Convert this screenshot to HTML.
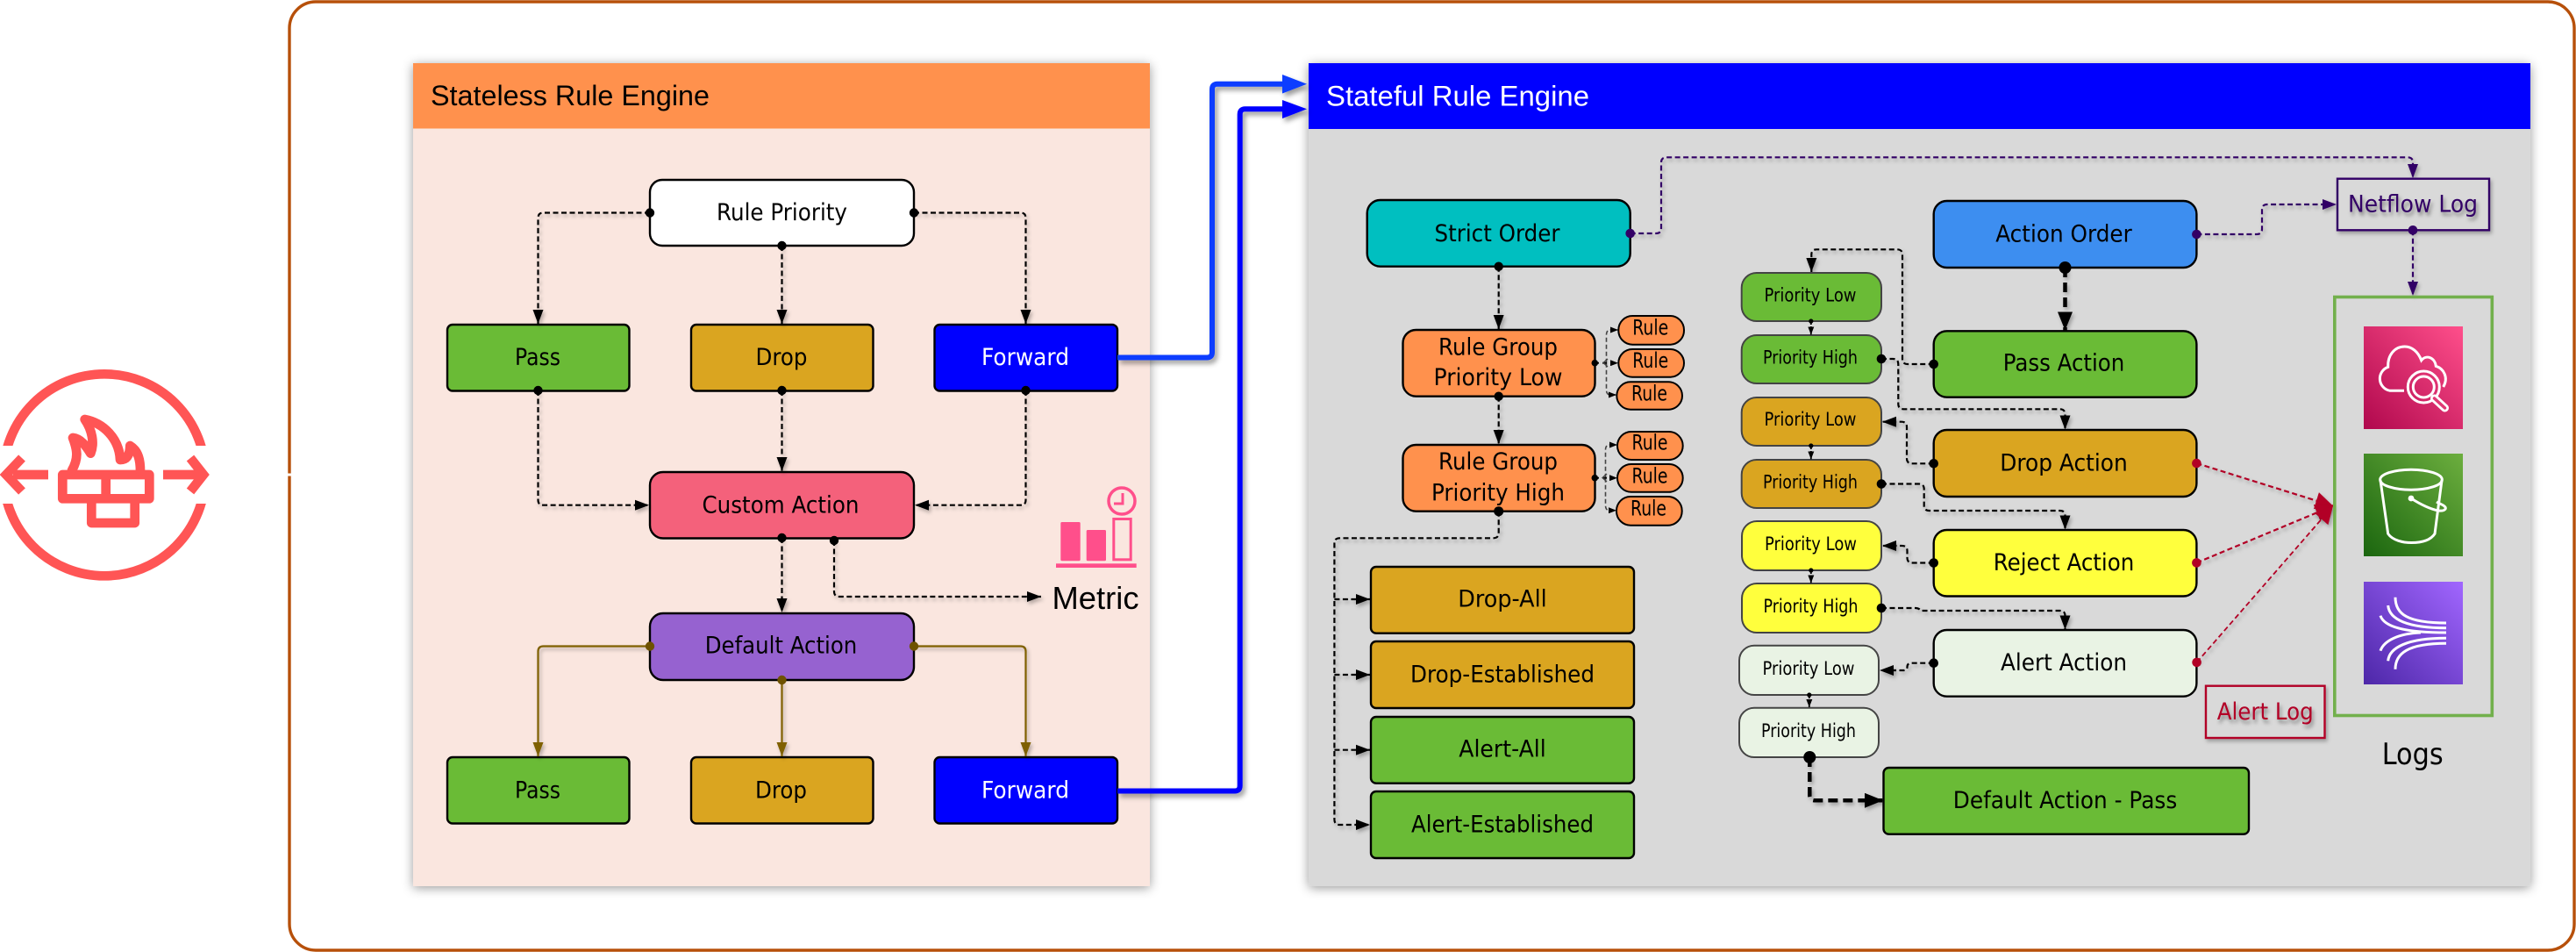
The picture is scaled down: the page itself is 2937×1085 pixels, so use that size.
<!DOCTYPE html>
<html>
<head>
<meta charset="utf-8">
<title>Network Firewall Rule Engines</title>
<style>
html,body{margin:0;padding:0;background:#fff;width:2937px;height:1085px;overflow:hidden}
svg{display:block}
text{font-family:"DejaVu Sans",sans-serif;font-size:27px;fill:#000;text-anchor:middle;kerning:normal}
text.h{font-family:"Liberation Sans",sans-serif;font-size:32px;text-anchor:start}
text.p{font-size:21px}
text.r{font-size:24px}
.n{stroke:#000;stroke-width:2.4}
.g{stroke:#444;stroke-width:2}
.c{fill:none;stroke:#000;stroke-width:2.2;stroke-dasharray:6 3.5;filter:url(#ls)}
.cp{fill:none;stroke:#330066;stroke-width:2.2;stroke-dasharray:6 3.5;filter:url(#ls)}
.cb{fill:none;stroke:#7f6000;stroke-width:2.2;filter:url(#ls)}
.cr{fill:none;stroke:#b20025;stroke-width:2.2;stroke-dasharray:6 3.5;filter:url(#ls)}
.t{fill:none;stroke:#000;stroke-width:4.5;stroke-dasharray:11 6;filter:url(#ls)}
.w{fill:none;stroke:#fff;stroke-width:3}
.i{fill:none;stroke:#ff5555;stroke-width:10.7}
</style>
</head>
<body>
<svg xmlns="http://www.w3.org/2000/svg" width="2937" height="1085" viewBox="0 0 2937 1085">
<defs>
<filter id="ps" x="-5%" y="-5%" width="110%" height="110%"><feDropShadow dx="0" dy="2" stdDeviation="6" flood-color="#000" flood-opacity=".4"/></filter>
<filter id="ls" filterUnits="userSpaceOnUse" x="0" y="0" width="2937" height="1085"><feDropShadow dx="2" dy="3" stdDeviation="2" flood-color="#000" flood-opacity=".28"/></filter>
<filter id="ts" filterUnits="userSpaceOnUse" x="0" y="0" width="2937" height="1085"><feDropShadow dx="2" dy="4" stdDeviation="2" flood-color="#000" flood-opacity=".4"/></filter>
<filter id="bs" filterUnits="userSpaceOnUse" x="0" y="0" width="2937" height="1085"><feDropShadow dx="3" dy="4" stdDeviation="3" flood-color="#000" flood-opacity=".4"/></filter>
<marker id="k" markerUnits="userSpaceOnUse" markerWidth="16" markerHeight="12" refX="16" refY="6" orient="auto"><path d="M0 0L16 6L0 12Z" fill="#000"/></marker>
<marker id="kb" markerUnits="userSpaceOnUse" markerWidth="21" markerHeight="17" refX="21" refY="8.5" orient="auto"><path d="M0 0L21 8.5L0 17Z" fill="#000"/></marker>
<marker id="ks" markerUnits="userSpaceOnUse" markerWidth="9" markerHeight="7" refX="9" refY="3.5" orient="auto"><path d="M0 0L9 3.5L0 7Z" fill="#000"/></marker>
<marker id="bm" markerUnits="userSpaceOnUse" markerWidth="16" markerHeight="12" refX="16" refY="6" orient="auto"><path d="M0 0L16 6L0 12Z" fill="#7f6000"/></marker>
<marker id="pm" markerUnits="userSpaceOnUse" markerWidth="16" markerHeight="12" refX="16" refY="6" orient="auto"><path d="M0 0L16 6L0 12Z" fill="#330066"/></marker>
<marker id="rm" markerUnits="userSpaceOnUse" markerWidth="20" markerHeight="20" refX="20" refY="10" orient="auto"><path d="M0 0L20 10L0 20Z" fill="#b20025"/></marker>
<linearGradient id="gc" x1="0" y1="1" x2="1" y2="0"><stop offset="0" stop-color="#b0084d"/><stop offset="1" stop-color="#ff4f8b"/></linearGradient>
<linearGradient id="gs" x1="0" y1="1" x2="1" y2="0"><stop offset="0" stop-color="#1b660f"/><stop offset="1" stop-color="#6cae3e"/></linearGradient>
<linearGradient id="gf" x1="0" y1="1" x2="1" y2="0"><stop offset="0" stop-color="#4d27a8"/><stop offset="1" stop-color="#a166ff"/></linearGradient>
<clipPath id="cc"><rect x="0" y="400" width="245" height="108"/><rect x="0" y="574" width="245" height="108"/></clipPath>
</defs>

<!-- outer group -->
<rect x="330" y="2" width="2605" height="1081" rx="30" fill="#fff" stroke="#b7500a" stroke-width="3.4"/>
<rect x="326" y="539.5" width="8" height="3" fill="#fff"/>

<!-- firewall icon -->
<circle cx="119" cy="541.3" r="115" class="i" clip-path="url(#cc)"/>
<path class="i" d="M15 541H55M25 522L7 541L25 560"/>
<path class="i" d="M186 541H228M217 522L232 541L217 560"/>
<path class="i" stroke-linejoin="round" d="M71.3 541H170.3V568.3H71.3ZM120.7 541V568M104.3 568.3V596H153.7V568.3"/>
<path class="i" stroke-linejoin="round" stroke-linecap="round" d="M82 536C90 522 88 512 83 499C92 500 98 508 103.3 516.7C108 505 105 490 96.7 478C118 482 136 500 137 524C145 524 148 518 148.3 508C158 514 160 525 160 537"/>

<!-- stateless panel -->
<g filter="url(#ps)"><rect x="471" y="72" width="840" height="938" fill="#fae6df"/></g>
<rect x="471" y="72" width="840" height="74.500" fill="#ff914d"/>
<text class="h" x="491" y="120" textLength="318" lengthAdjust="spacingAndGlyphs">Stateless Rule Engine</text>

<!-- stateful panel -->
<g filter="url(#ps)"><rect x="1492" y="72" width="1393" height="938" rx="4" fill="#d9d9d9"/></g>
<rect x="1492" y="72" width="1393" height="75" fill="#0000ff"/>
<text class="h" x="1512" y="120.500" textLength="300" lengthAdjust="spacingAndGlyphs" style="fill:#fff">Stateful Rule Engine</text>

<!-- stateless nodes -->
<rect class="n" x="741" y="205" width="301" height="75" rx="14" fill="#fff"/>
<text x="891.500" y="251" textLength="149" lengthAdjust="spacingAndGlyphs">Rule Priority</text>
<rect class="n" x="510" y="370" width="207.500" height="75.500" rx="6" fill="#6abb36"/>
<text x="613" y="416" textLength="52" lengthAdjust="spacingAndGlyphs">Pass</text>
<rect class="n" x="788" y="370" width="207.500" height="75.500" rx="6" fill="#daa520"/>
<text x="891" y="416" textLength="59" lengthAdjust="spacingAndGlyphs">Drop</text>
<rect class="n" x="1065.500" y="370" width="208.500" height="75.500" rx="6" fill="#0000ff"/>
<text x="1169" y="416" textLength="100" lengthAdjust="spacingAndGlyphs" style="fill:#fff">Forward</text>
<rect class="n" x="741" y="538" width="301" height="75.500" rx="15" fill="#f4617b"/>
<text x="890" y="584.300" textLength="179" lengthAdjust="spacingAndGlyphs">Custom Action</text>
<rect class="n" x="741" y="699" width="301" height="76" rx="15" fill="#9662d0"/>
<text x="890.500" y="744.400" textLength="173.500" lengthAdjust="spacingAndGlyphs">Default Action</text>
<rect class="n" x="510" y="863" width="207.500" height="75.500" rx="6" fill="#6abb36"/>
<text x="613" y="909.300" textLength="52" lengthAdjust="spacingAndGlyphs">Pass</text>
<rect class="n" x="788" y="863" width="207.500" height="75.500" rx="6" fill="#daa520"/>
<text x="890.500" y="909.300" textLength="59" lengthAdjust="spacingAndGlyphs">Drop</text>
<rect class="n" x="1065.500" y="863" width="208.500" height="75.500" rx="6" fill="#0000ff"/>
<text x="1169" y="909.300" textLength="100" lengthAdjust="spacingAndGlyphs" style="fill:#fff">Forward</text>

<!-- stateless connectors -->
<path class="c" marker-end="url(#k)" d="M741 242.500H619.500Q613.500 242.500 613.500 248.500V369"/>
<path class="c" marker-end="url(#k)" d="M891.500 280V369"/>
<path class="c" marker-end="url(#k)" d="M1042 242.500H1163.500Q1169.500 242.500 1169.500 248.500V369"/>
<path class="c" marker-end="url(#k)" d="M613.500 445V569.700Q613.500 575.700 619.500 575.700H740"/>
<path class="c" marker-end="url(#k)" d="M891.500 445V537"/>
<path class="c" marker-end="url(#k)" d="M1169.500 445V569.700Q1169.500 575.700 1163.500 575.700H1043"/>
<path class="c" marker-end="url(#k)" d="M891.500 613V698"/>
<path class="c" marker-end="url(#k)" d="M951 616V674Q951 680 957 680H1187"/>
<path class="cb" marker-end="url(#bm)" d="M741 736.500H619.500Q613.500 736.500 613.500 742.500V862"/>
<path class="cb" marker-end="url(#bm)" d="M891.500 775V862"/>
<path class="cb" marker-end="url(#bm)" d="M1042 736.500H1163.500Q1169.500 736.500 1169.500 742.500V862"/>
<g fill="#000">
<circle cx="741" cy="242.500" r="5.200"/><circle cx="891.500" cy="280" r="5.200"/><circle cx="1042" cy="242.500" r="5.200"/>
<circle cx="613.500" cy="445" r="5.200"/><circle cx="891.500" cy="445" r="5.200"/><circle cx="1169.500" cy="445" r="5.200"/>
<circle cx="891.500" cy="613" r="5.200"/><circle cx="951" cy="616" r="5.200"/>
</g>
<g fill="#6e5200"><circle cx="741" cy="736.500" r="5.200"/><circle cx="891.500" cy="775" r="5.200"/><circle cx="1042" cy="736.500" r="5.200"/></g>

<!-- metric -->
<text class="h" x="1199.500" y="694" textLength="99" lengthAdjust="spacingAndGlyphs" style="font-size:36px">Metric</text>
<g fill="#ff4f8b">
<rect x="1209.300" y="595" width="22.400" height="44.300" rx="1.500"/>
<rect x="1238.700" y="604" width="22.300" height="35.300" rx="1.500"/>
<rect x="1204" y="642.300" width="91.700" height="4.700"/>
</g>
<rect x="1269.800" y="591.500" width="19.400" height="46.300" fill="none" stroke="#ff4f8b" stroke-width="3"/>
<circle cx="1279" cy="571" r="15" fill="none" stroke="#ff4f8b" stroke-width="3.500"/>
<path d="M1280 562V574H1270" fill="none" stroke="#ff4f8b" stroke-width="3"/>

<!-- blue connectors -->
<g filter="url(#bs)">
<path d="M1274 407.500H1376Q1382 407.500 1382 401.500V101.700Q1382 95.700 1388 95.700H1465" fill="none" stroke="#0a3cff" stroke-width="6"/>
<path d="M1462 85L1490 95.700L1462 106.500Z" fill="#0a3cff"/>
</g>
<g filter="url(#bs)">
<path d="M1274 901.500H1407.700Q1413.700 901.500 1413.700 895.500V130.300Q1413.700 124.300 1419.700 124.300H1465" fill="none" stroke="#0000ff" stroke-width="6"/>
<path d="M1462 114L1490 124.300L1462 135Z" fill="#0000ff"/>
</g>

<!-- stateful connectors -->
<path class="cp" marker-end="url(#pm)" d="M1858.700 266H1888Q1894 266 1894 260V185.300Q1894 179.300 1900 179.300H2745Q2751 179.300 2751 185.300V203"/>
<path class="cp" marker-end="url(#pm)" d="M2504.400 267H2573Q2579 267 2579 261V239Q2579 233 2585 233H2664"/>
<path class="cp" marker-end="url(#pm)" d="M2751 262.300V337"/>
<path class="c" marker-end="url(#k)" d="M1708.700 303.700V375"/>
<path class="c" marker-end="url(#k)" d="M1708.700 451.700V506"/>
<path class="c" marker-end="url(#k)" d="M2204.700 415H2175Q2169 415 2169 409V290.300Q2169 284.300 2163 284.300H2071.300Q2065.300 284.300 2065.300 290.300V310"/>
<path class="c" marker-end="url(#k)" d="M2145 409H2158.300Q2164.300 409 2164.300 415V460.300Q2164.300 466.300 2170.300 466.300H2348.500Q2354.500 466.300 2354.500 472.300V489.500"/>
<path class="c" marker-end="url(#k)" d="M2204.700 528.300H2180Q2174 528.300 2174 522.300V486.700Q2174 480.700 2168 480.700H2146"/>
<path class="c" marker-end="url(#k)" d="M2145 551.500H2187.700Q2193.700 551.500 2193.700 557.500V576Q2193.700 582 2199.700 582H2348.500Q2354.500 582 2354.500 588V603.500"/>
<path class="c" marker-end="url(#k)" d="M2204.700 641.500H2180.500Q2174.500 641.500 2174.500 635.500V628Q2174.500 622 2168.500 622H2146"/>
<path class="c" marker-end="url(#k)" d="M2145 693H2184Q2188 693 2190 696H2348.500Q2354.500 696 2354.500 702V717.500"/>
<path class="c" marker-end="url(#k)" d="M2204.700 755.700H2180Q2174.500 755.700 2174.500 760Q2174.500 764 2170 764H2143"/>
<path class="t" marker-end="url(#kb)" d="M2354.500 305V376.500"/>
<path class="t" marker-end="url(#kb)" d="M2063.300 863V906.300Q2063.300 912.300 2069.300 912.300H2147"/>
<path class="c" marker-end="url(#k)" d="M1708.700 582.700V607.300Q1708.700 613.300 1702.700 613.300H1527.400Q1521.400 613.300 1521.400 619.300V934Q1521.400 940 1527.400 940H1562"/>
<path class="c" marker-end="url(#k)" d="M1521.400 683H1562"/>
<path class="c" marker-end="url(#k)" d="M1521.400 769H1562"/>
<path class="c" marker-end="url(#k)" d="M1521.400 854.700H1562"/>

<!-- red arrows -->
<path class="cr" marker-end="url(#rm)" d="M2504.400 528L2660 576.600"/>
<path class="cr" marker-end="url(#rm)" d="M2504.400 641.400L2660 576.600"/>
<path class="cr" marker-end="url(#rm)" style="stroke-width:1.800" d="M2504.600 754.900L2660 576.600"/>

<!-- strict order column -->
<rect class="n" x="1558.700" y="228" width="300" height="75.700" rx="15" fill="#00bfc0"/>
<text x="1707" y="275" textLength="143" lengthAdjust="spacingAndGlyphs">Strict Order</text>
<rect class="n" x="1599.500" y="376" width="219" height="75.700" rx="15" fill="#ff914d"/>
<text x="1708" y="404.300" textLength="136" lengthAdjust="spacingAndGlyphs">Rule Group</text>
<text x="1708" y="439" textLength="147" lengthAdjust="spacingAndGlyphs">Priority Low</text>
<rect class="n" x="1599.500" y="507" width="219" height="75.700" rx="15" fill="#ff914d"/>
<text x="1708" y="535" textLength="136" lengthAdjust="spacingAndGlyphs">Rule Group</text>
<text x="1708" y="570.700" textLength="152" lengthAdjust="spacingAndGlyphs">Priority High</text>

<!-- rules connectors -->
<g fill="none" stroke="#444" stroke-width="1.600" stroke-dasharray="5 3">
<path marker-end="url(#ks)" d="M1831.500 413.700V382Q1831.500 376 1836 376H1845"/>
<path marker-end="url(#ks)" d="M1831.500 413.700V444Q1831.500 450 1836 450H1843"/>
<path marker-end="url(#ks)" d="M1830.500 544.700V513Q1830.500 507 1835 507H1844"/>
<path marker-end="url(#ks)" d="M1830.500 544.700V575.700Q1830.500 581.700 1835 581.700H1843"/>
</g>
<path d="M1818 413.700H1845" stroke="#000" stroke-width="1.800" stroke-dasharray="5 4" fill="none" marker-end="url(#ks)"/>
<path d="M1818 544.700H1844" stroke="#000" stroke-width="1.800" stroke-dasharray="5 4" fill="none" marker-end="url(#ks)"/>
<path d="M1833 409L1828 413.500L1833 418M1832 540L1827 544.500L1832 549" fill="none" stroke="#444" stroke-width="1.400"/>
<circle cx="1818.300" cy="413.700" r="3.800"/><circle cx="1818.300" cy="544.700" r="3.800"/>

<!-- rules -->
<g fill="#ff914d" stroke="#000" stroke-width="2">
<rect x="1845.300" y="360" width="74.700" height="32.700" rx="16"/>
<rect x="1845.300" y="398" width="74.700" height="31.700" rx="15.800"/>
<rect x="1843.300" y="435.300" width="74.700" height="31.400" rx="15.700"/>
<rect x="1844" y="492" width="74.700" height="32" rx="16"/>
<rect x="1844" y="529" width="74.700" height="31.700" rx="15.800"/>
<rect x="1843" y="566" width="74.700" height="32.700" rx="16"/>
</g>
<text class="r" x="1881.700" y="381.700" textLength="41" lengthAdjust="spacingAndGlyphs">Rule</text>
<text class="r" x="1881.700" y="419" textLength="41" lengthAdjust="spacingAndGlyphs">Rule</text>
<text class="r" x="1880.500" y="456.700" textLength="41" lengthAdjust="spacingAndGlyphs">Rule</text>
<text class="r" x="1881" y="512.700" textLength="41" lengthAdjust="spacingAndGlyphs">Rule</text>
<text class="r" x="1881" y="550.700" textLength="41" lengthAdjust="spacingAndGlyphs">Rule</text>
<text class="r" x="1879.500" y="587.700" textLength="41" lengthAdjust="spacingAndGlyphs">Rule</text>

<!-- left list -->
<rect class="n" x="1563" y="646" width="300" height="75.700" rx="6" fill="#daa520"/>
<text x="1713" y="691.700" textLength="101.500" lengthAdjust="spacingAndGlyphs">Drop-All</text>
<rect class="n" x="1563" y="731" width="300" height="76" rx="6" fill="#daa520"/>
<text x="1713" y="777.700" textLength="210" lengthAdjust="spacingAndGlyphs">Drop-Established</text>
<rect class="n" x="1563" y="817" width="300" height="75.700" rx="6" fill="#6abb36"/>
<text x="1713" y="862.700" textLength="99.500" lengthAdjust="spacingAndGlyphs">Alert-All</text>
<rect class="n" x="1563" y="902" width="300" height="76" rx="6" fill="#6abb36"/>
<text x="1713" y="948.700" textLength="208" lengthAdjust="spacingAndGlyphs">Alert-Established</text>

<!-- priority nodes -->
<rect class="g" x="1985.700" y="311" width="159.300" height="55" rx="17" fill="#6abb36"/>
<text class="p" x="2064" y="343.300" textLength="105" lengthAdjust="spacingAndGlyphs">Priority Low</text>
<rect class="g" x="1985.700" y="382" width="159.300" height="55" rx="17" fill="#6abb36"/>
<text class="p" x="2064" y="414.300" textLength="108" lengthAdjust="spacingAndGlyphs">Priority High</text>
<rect class="g" x="1985.700" y="453" width="159.300" height="55" rx="17" fill="#daa520"/>
<text class="p" x="2064" y="485" textLength="105" lengthAdjust="spacingAndGlyphs">Priority Low</text>
<rect class="g" x="1985.700" y="524" width="159.300" height="55" rx="17" fill="#daa520"/>
<text class="p" x="2064" y="556.500" textLength="108" lengthAdjust="spacingAndGlyphs">Priority High</text>
<rect class="g" x="1986" y="594" width="159" height="56" rx="17" fill="#ffff3d"/>
<text class="p" x="2064.500" y="627" textLength="105" lengthAdjust="spacingAndGlyphs">Priority Low</text>
<rect class="g" x="1986" y="665" width="159" height="56" rx="17" fill="#ffff3d"/>
<text class="p" x="2064.500" y="698" textLength="108" lengthAdjust="spacingAndGlyphs">Priority High</text>
<rect class="g" x="1983" y="735.700" width="159" height="56.300" rx="17" fill="#e9f3e4"/>
<text class="p" x="2062" y="769" textLength="105" lengthAdjust="spacingAndGlyphs">Priority Low</text>
<rect class="g" x="1983" y="806.700" width="159" height="56.300" rx="17" fill="#e9f3e4"/>
<text class="p" x="2062" y="840" textLength="108" lengthAdjust="spacingAndGlyphs">Priority High</text>
<g fill="none" stroke="#000" stroke-width="1.800" stroke-dasharray="4 2">
<path marker-end="url(#ks)" d="M2064.800 366V381.500"/>
<path marker-end="url(#ks)" d="M2064.800 508V523.500"/>
<path marker-end="url(#ks)" d="M2064.800 650V664.500"/>
<path marker-end="url(#ks)" d="M2062.800 792V806"/>
</g>
<g fill="#000">
<circle cx="2064.800" cy="366" r="2.600"/><circle cx="2064.800" cy="508" r="2.600"/><circle cx="2064.800" cy="650" r="2.600"/><circle cx="2062.800" cy="792" r="2.600"/>
</g>

<!-- action nodes -->
<rect class="n" x="2204.700" y="229" width="299.700" height="76" rx="15" fill="#3d8ef0"/>
<text x="2353" y="275.700" textLength="155.600" lengthAdjust="spacingAndGlyphs">Action Order</text>
<rect class="n" x="2204.700" y="377.300" width="299.700" height="75.400" rx="15" fill="#6abb36"/>
<text x="2353" y="422.700" textLength="138.600" lengthAdjust="spacingAndGlyphs">Pass Action</text>
<rect class="n" x="2204.700" y="490" width="299.700" height="76" rx="15" fill="#daa520"/>
<text x="2353" y="536.700" textLength="145.600" lengthAdjust="spacingAndGlyphs">Drop Action</text>
<rect class="n" x="2204.700" y="604" width="299.700" height="75.500" rx="15" fill="#ffff3d"/>
<text x="2353" y="650" textLength="160.600" lengthAdjust="spacingAndGlyphs">Reject Action</text>
<rect class="n" x="2204.700" y="718" width="299.700" height="75.700" rx="15" fill="#e9f3e4"/>
<text x="2353" y="764" textLength="144" lengthAdjust="spacingAndGlyphs">Alert Action</text>
<rect class="n" x="2147.500" y="875" width="416.500" height="75.700" rx="6" fill="#6abb36"/>
<text x="2354.500" y="921" textLength="255.500" lengthAdjust="spacingAndGlyphs">Default Action - Pass</text>

<!-- stateful dots -->
<g fill="#000">
<circle cx="1708.700" cy="303.700" r="5.200"/><circle cx="1708.700" cy="451.700" r="5.200"/><circle cx="1708.700" cy="582.700" r="5.500"/>
<circle cx="2354.500" cy="305" r="7"/><circle cx="2063.300" cy="863" r="7"/>
<circle cx="2204.700" cy="415" r="5.300"/><circle cx="2204.700" cy="528.300" r="5.300"/><circle cx="2204.700" cy="641.500" r="5.300"/><circle cx="2204.700" cy="755.700" r="5.300"/>
<circle cx="2145" cy="409" r="5.300"/><circle cx="2145" cy="551.500" r="5.300"/><circle cx="2145" cy="693" r="5.300"/>
</g>
<g fill="#330066"><circle cx="1858.700" cy="266" r="5.300"/><circle cx="2504.400" cy="267" r="5.300"/><circle cx="2751" cy="262.300" r="5.300"/></g>
<g fill="#b20025"><circle cx="2504.400" cy="528" r="5.300"/><circle cx="2504.400" cy="641.400" r="5.300"/><circle cx="2504.600" cy="754.900" r="5.300"/></g>

<!-- netflow -->
<rect x="2665" y="203.700" width="173" height="58.600" fill="#d9d9d9" stroke="#330066" stroke-width="2.400" filter="url(#ls)"/>
<text x="2751" y="241.700" textLength="148" lengthAdjust="spacingAndGlyphs" style="fill:#330066" filter="url(#ts)">Netflow Log</text>
<circle cx="2751" cy="262.300" r="5.300" fill="#330066"/>

<!-- alert log -->
<rect x="2515" y="781.700" width="135.500" height="59.300" fill="#d9d9d9" stroke="#b20025" stroke-width="2.400" filter="url(#ls)"/>
<text x="2582.700" y="820" textLength="110" lengthAdjust="spacingAndGlyphs" style="fill:#b20025" filter="url(#ts)">Alert Log</text>

<!-- logs box -->
<rect x="2661.800" y="338.500" width="179.500" height="477" fill="none" stroke="#72b04c" stroke-width="3.600"/>
<text x="2750.700" y="871" textLength="70" lengthAdjust="spacingAndGlyphs" style="font-size:34px">Logs</text>

<rect x="2695" y="372" width="113" height="117" fill="url(#gc)"/>
<path class="w" d="M2741 445.300H2725A14 14 0 0 1 2722.700 418.300C2722 405 2730 395 2741.700 395C2750 395 2757 401 2760.700 410.700C2766 404 2776 407 2777.300 417.300C2786 420 2792 430 2785.700 441"/>
<circle class="w" cx="2763.300" cy="441" r="18"/>
<circle class="w" cx="2763.300" cy="441" r="12"/>
<path d="M2775.500 454L2787.500 465" stroke="#fff" stroke-width="9" stroke-linecap="round"/>
<path d="M2775.500 454L2787.500 465" stroke="#e03a75" stroke-width="3.500" stroke-linecap="round"/>

<rect x="2695" y="517" width="113" height="117" fill="url(#gs)"/>
<ellipse class="w" cx="2749" cy="546.700" rx="35.300" ry="11.500"/>
<path class="w" d="M2714 547.300L2722.700 608.300C2728 616 2740 618.500 2749.300 618.500C2760 618.500 2771 616 2776 608.300L2784 547.300"/>
<circle cx="2749" cy="568" r="3.400" fill="#fff"/>
<path class="w" d="M2749 568C2760 575 2770 580 2780 582C2788 583 2790 579 2787 577C2785 575 2781 574 2778 572"/>

<rect x="2695" y="663" width="113" height="117" fill="url(#gf)"/>
<g class="w">
<path d="M2731 680.700C2731 700 2745 710 2789 710"/>
<path d="M2722.700 690C2724 706 2745 715.700 2789 715.700"/>
<path d="M2714 701.700C2718 714 2740 721 2789 721"/>
<path d="M2714 741.700C2718 730 2735 722 2760 721"/>
<path d="M2722.700 753.300C2724 738 2745 727.300 2789 727.300"/>
<path d="M2731 762.700C2731 745 2745 733.300 2789 733.300"/>
</g>
</svg>
</body>
</html>
